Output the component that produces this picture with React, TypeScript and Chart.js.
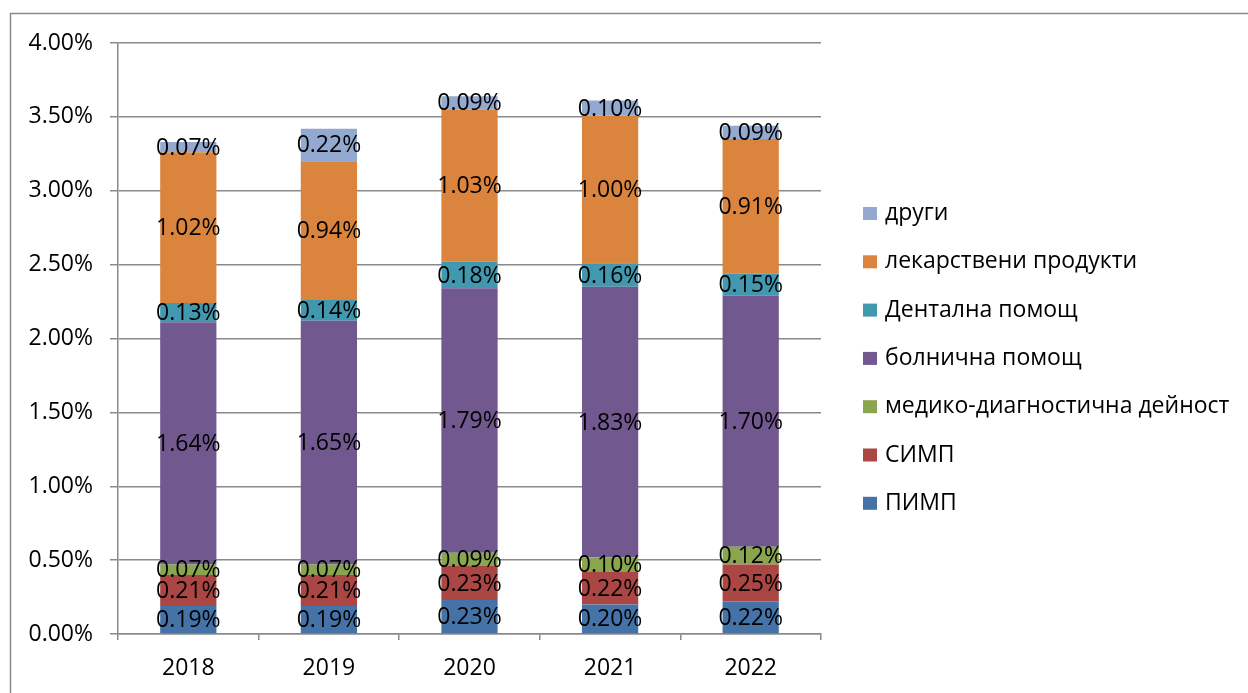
import { useEffect, useRef } from 'react';
import { Chart, registerables } from 'chart.js';

Chart.register(...registerables);

const years = ['2018', '2019', '2020', '2021', '2022'];
const pimp = [0.19, 0.19, 0.23, 0.2, 0.22];
const simp = [0.21, 0.21, 0.23, 0.22, 0.25];
const mediko = [0.07, 0.07, 0.09, 0.1, 0.12];
const bolnichna = [1.64, 1.65, 1.79, 1.83, 1.7];
const dentalna = [0.13, 0.14, 0.18, 0.16, 0.15];
const lekarstveni = [1.02, 0.94, 1.03, 1.0, 0.91];
const drugi = [0.07, 0.22, 0.09, 0.1, 0.09];

const seriesNames = [
  'ПИМП',
  'СИМП',
  'медико-диагностична дейност',
  'болнична помощ',
  'Дентална помощ',
  'лекарствени продукти',
  'други',
];
const seriesColors = ['#4572A7', '#AA4643', '#89A54E', '#71588F', '#4198AF', '#DB843D', '#93A9CF'];
const seriesData = [pimp, simp, mediko, bolnichna, dentalna, lekarstveni, drugi];

const yMin = 0;
const yMax = 4;
const yStep = 0.5;

const FONT = "'Open Sans', 'DejaVu Sans', sans-serif";
const GRID = '#8a8a8a';

const framePlugin = {
  id: 'frame',
  beforeDraw(chart: any) {
    const { ctx, width, height } = chart;
    ctx.save();
    ctx.fillStyle = '#ffffff';
    ctx.fillRect(0, 0, width, height);
    ctx.strokeStyle = GRID;
    ctx.lineWidth = 1.5;
    ctx.beginPath();
    ctx.moveTo(10.5, height);
    ctx.lineTo(10.5, 13.5);
    ctx.lineTo(width, 13.5);
    ctx.stroke();
    ctx.restore();
  },
};

const labelPlugin = {
  id: 'segLabels',
  afterDatasetsDraw(chart: any) {
    const { ctx } = chart;
    ctx.save();
    ctx.font = `23px ${FONT}`;
    ctx.fillStyle = '#000000';
    ctx.textAlign = 'center';
    ctx.textBaseline = 'middle';
    chart.data.datasets.forEach((ds: any, di: number) => {
      const meta = chart.getDatasetMeta(di);
      meta.data.forEach((el: any, i: number) => {
        const v = ds.data[i];
        const { x, y, base } = el.getProps(['x', 'y', 'base'], true);
        ctx.fillText(v.toFixed(2) + '%', x, (y + base) / 2 + 1);
      });
    });
    ctx.restore();
  },
};

const legendPlugin = {
  id: 'customLegend',
  afterDraw(chart: any) {
    const { ctx, chartArea } = chart;
    const x0 = chartArea.right + 42;
    const yStart = 213.5;
    const rowGap = 48.3;
    ctx.save();
    ctx.font = `23px ${FONT}`;
    ctx.textAlign = 'left';
    ctx.textBaseline = 'middle';
    const ds = chart.data.datasets;
    for (let k = 0; k < ds.length; k++) {
      const d = ds[ds.length - 1 - k];
      const cy = yStart + k * rowGap;
      ctx.fillStyle = d.backgroundColor;
      ctx.fillRect(x0, cy - 6.5, 14, 13);
      ctx.fillStyle = '#000000';
      ctx.fillText(d.label, x0 + 22, cy);
    }
    ctx.restore();
  },
};

export default function App() {
  const ref = useRef<HTMLCanvasElement | null>(null);

  useEffect(() => {
    if (!ref.current) return;
    const chart = new Chart(ref.current, {
      type: 'bar',
      data: {
        labels: years,
        datasets: seriesData.map((d, i) => ({
          label: seriesNames[i],
          data: d,
          backgroundColor: seriesColors[i],
          borderWidth: 0,
          categoryPercentage: 1,
          barPercentage: 0.4,
        })),
      },
      options: {
        animation: false,
        responsive: false,
        maintainAspectRatio: false,
        layout: { padding: { left: 0, top: 43, right: 427, bottom: 0 } },
        plugins: {
          legend: { display: false },
          tooltip: { enabled: false },
          title: { display: false },
        },
        scales: {
          x: {
            stacked: true,
            grid: {
              display: true,
              drawOnChartArea: false,
              drawTicks: true,
              tickLength: 6,
              color: GRID,
              lineWidth: 1.5,
              offset: true,
            },
            border: { display: true, color: GRID, width: 1.5 },
            ticks: {
              color: '#000000',
              font: { family: FONT, size: 23 },
              padding: 15,
              maxRotation: 0,
            },
            afterFit(scale: any) {
              scale.height = 59;
            },
          },
          y: {
            stacked: true,
            min: yMin,
            max: yMax,
            grid: {
              color: GRID,
              lineWidth: 1.5,
              tickLength: 8,
              drawTicks: true,
            },
            border: { display: true, color: GRID, width: 1.5 },
            ticks: {
              stepSize: yStep,
              color: '#000000',
              font: { family: FONT, size: 23 },
              padding: 17,
              callback: (v: any) => Number(v).toFixed(2) + '%',
            },
            afterFit(scale: any) {
              scale.width = 118;
            },
          },
        },
      },
      plugins: [framePlugin, labelPlugin, legendPlugin],
    });
    return () => chart.destroy();
  }, []);

  return (
    <div style={{ position: 'absolute', left: 0, top: 0, width: 1248, height: 693 }}>
      <canvas ref={ref} width={1248} height={693} style={{ width: 1248, height: 693, display: 'block' }} />
    </div>
  );
}
